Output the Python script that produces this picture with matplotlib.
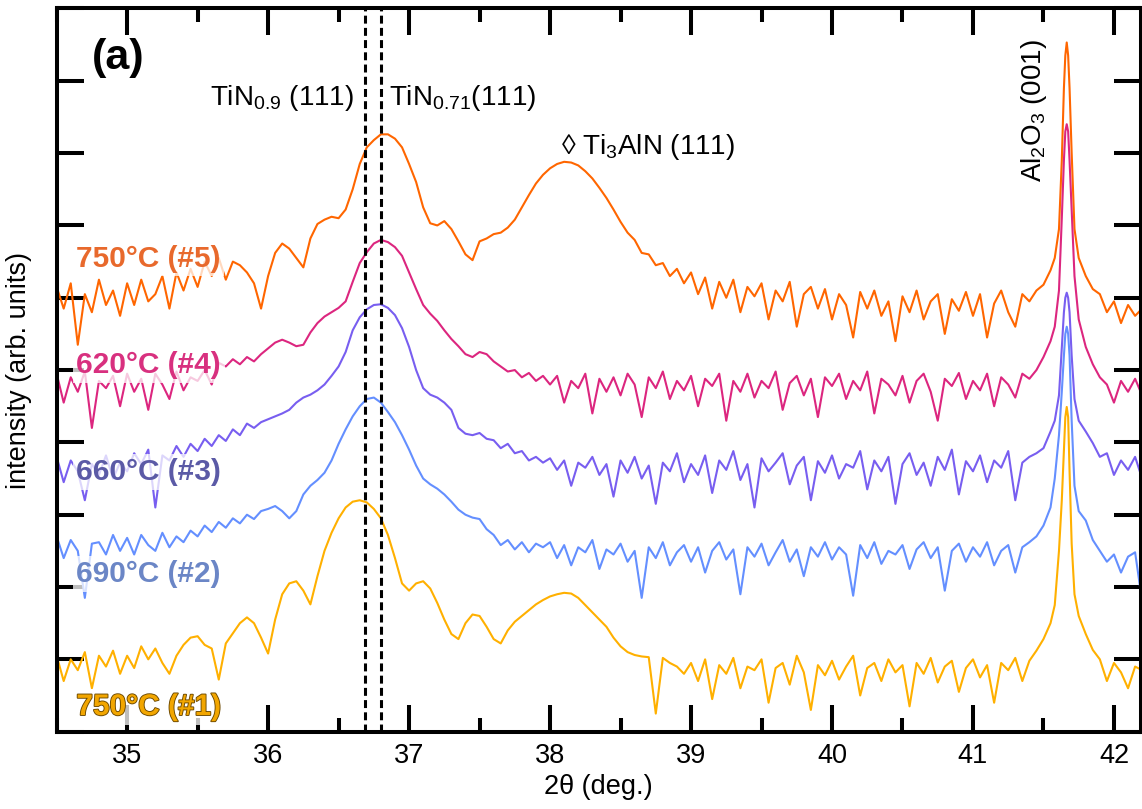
import numpy as np
import matplotlib
matplotlib.use("Agg")
import matplotlib.pyplot as plt
import matplotlib.patheffects as pe
from matplotlib.ticker import MultipleLocator, NullFormatter

plt.rcParams["font.family"] = ["Liberation Sans", "DejaVu Sans"]
plt.rcParams["mathtext.fontset"] = "custom"
plt.rcParams["mathtext.rm"] = "Liberation Sans"
plt.rcParams["mathtext.default"] = "regular"

# %%
# Data (offset traces, arb. units)
# 2theta grid: 0.05 deg steps, finer points across the Al2O3 (001) peak
X_MAIN = np.round(np.arange(34.50, 41.551, 0.05), 2)
X_PEAK = [41.58, 41.61, 41.63, 41.645, 41.655, 41.665, 41.675, 41.685, 41.70, 41.72, 41.75]
X_TAIL = np.round(np.arange(41.80, 42.201, 0.05), 2)
two_theta = np.concatenate([X_MAIN, X_PEAK, X_TAIL])

I_5 = [
    6.15, 5.85, 6.20, 5.35, 6.05, 5.80, 6.25, 5.90, 6.10, 5.75,   # 34.50
    6.20, 5.90, 6.25, 5.95, 6.05, 6.30, 5.85, 6.35, 6.10, 6.40,   # 35.00
    6.15, 6.50, 6.30, 6.55, 6.25, 6.50, 6.45, 6.35, 6.20, 5.85,   # 35.50
    6.30, 6.62, 6.75, 6.68, 6.55, 6.42, 6.82, 7.02, 7.08, 7.12,   # 36.00
    7.10, 7.22, 7.50, 7.85, 8.08, 8.18, 8.26, 8.26, 8.20, 8.08,   # 36.50
    7.85, 7.60, 7.25, 7.03, 7.00, 7.06, 6.95, 6.78, 6.60, 6.52,   # 37.00
    6.78, 6.82, 6.88, 6.90, 6.97, 7.08, 7.25, 7.42, 7.58, 7.70,   # 37.50
    7.79, 7.85, 7.88, 7.87, 7.83, 7.75, 7.65, 7.52, 7.38, 7.22,   # 38.00
    7.05, 6.90, 6.80, 6.62, 6.60, 6.45, 6.48, 6.30, 6.40, 6.20,   # 38.50
    6.35, 6.05, 6.28, 5.85, 6.22, 6.00, 6.25, 5.80, 6.15, 6.02,   # 39.00
    6.20, 5.70, 6.10, 5.95, 6.22, 5.60, 6.05, 6.15, 5.85, 6.12,   # 39.50
    5.70, 6.05, 5.90, 5.45, 6.08, 5.85, 6.10, 5.75, 5.95, 5.40,   # 40.00
    6.02, 5.80, 6.10, 5.70, 5.95, 6.05, 5.50, 5.98, 5.82, 6.08,   # 40.50
    5.75, 6.05, 5.45, 5.92, 6.10, 5.80, 5.60, 6.05, 5.95, 6.10,   # 41.00
    6.18, 6.38,                                                   # 41.50
    6.55, 6.95, 7.90, 8.90, 9.35, 9.53, 9.35, 8.90, 8.00, 6.95, 6.55,  # peak
    6.30, 6.12, 6.05, 5.80, 5.95, 5.65, 5.90, 5.75, 5.85,         # 41.80
]

I_4 = [
    4.95, 4.55, 4.90, 4.70, 4.98, 4.20, 4.85, 4.75, 4.92, 4.50,
    4.95, 4.70, 4.88, 4.45, 4.95, 4.80, 4.60, 4.98, 4.72, 4.90,
    4.85, 5.00, 4.80, 5.10, 5.05, 5.15, 5.08, 5.18, 5.12, 5.22,
    5.30, 5.38, 5.42, 5.38, 5.33, 5.35, 5.52, 5.65, 5.74, 5.80,
    5.86, 5.95, 6.22, 6.48, 6.63, 6.75, 6.80, 6.77, 6.70, 6.58,
    6.35, 6.12, 5.90, 5.78, 5.68, 5.55, 5.43, 5.33, 5.22, 5.18,
    5.25, 5.22, 5.12, 5.05, 4.98, 5.00, 4.90, 4.96, 4.85, 4.92,
    4.80, 4.92, 4.55, 4.85, 4.75, 4.95, 4.40, 4.88, 4.70, 4.90,
    4.65, 4.95, 4.80, 4.35, 4.90, 4.75, 4.98, 4.60, 4.85, 4.72,
    4.92, 4.50, 4.88, 4.78, 4.95, 4.30, 4.85, 4.70, 4.95, 4.62,
    4.85, 4.75, 4.98, 4.45, 4.82, 4.92, 4.65, 4.88, 4.35, 4.90,
    4.78, 4.95, 4.60, 4.85, 4.72, 4.98, 4.40, 4.88, 4.80, 4.65,
    4.92, 4.55, 4.85, 4.95, 4.70, 4.30, 4.88, 4.78, 4.96, 4.60,
    4.85, 4.72, 4.95, 4.50, 4.90, 4.80, 4.62, 4.95, 4.88, 5.00,
    5.18, 5.40,
    5.60, 6.10, 7.10, 7.90, 8.30, 8.40, 8.30, 7.90, 7.20, 6.30, 5.70,
    5.32, 5.08, 4.90, 4.80, 4.55, 4.85, 4.70, 4.88, 4.65,
]

I_3 = [
    3.80, 3.45, 3.75, 3.60, 3.20, 3.70, 3.55, 3.82, 3.50, 3.72,
    3.60, 3.85, 3.70, 3.90, 3.10, 3.82, 3.75, 3.95, 3.80, 3.98,
    3.88, 4.05, 3.95, 4.10, 4.02, 4.18, 4.10, 4.26, 4.20, 4.28,
    4.32, 4.36, 4.40, 4.45, 4.55, 4.62, 4.66, 4.72, 4.80, 4.92,
    5.05, 5.25, 5.55, 5.73, 5.84, 5.90, 5.91, 5.86, 5.76, 5.58,
    5.32, 5.00, 4.75, 4.66, 4.62, 4.55, 4.45, 4.20, 4.12, 4.10,
    4.13, 4.05, 4.03, 3.92, 3.98, 3.85, 3.88, 3.75, 3.80, 3.72,
    3.78, 3.62, 3.75, 3.40, 3.72, 3.65, 3.80, 3.55, 3.70, 3.25,
    3.75, 3.58, 3.80, 3.50, 3.68, 3.15, 3.72, 3.60, 3.85, 3.45,
    3.70, 3.55, 3.82, 3.30, 3.75, 3.62, 3.88, 3.48, 3.70, 3.10,
    3.78, 3.60, 3.72, 3.85, 3.42, 3.68, 3.80, 3.20, 3.74, 3.58,
    3.82, 3.50, 3.70, 3.65, 3.88, 3.35, 3.75, 3.60, 3.80, 3.15,
    3.70, 3.85, 3.55, 3.72, 3.40, 3.80, 3.62, 3.90, 3.28, 3.74,
    3.60, 3.82, 3.45, 3.75, 3.65, 3.88, 3.20, 3.72, 3.80, 3.85,
    3.92, 4.15,
    4.30, 4.65, 5.30, 5.80, 6.00, 6.07, 6.00, 5.80, 5.20, 4.60, 4.30,
    4.15, 3.99, 3.80, 3.85, 3.55, 3.75, 3.62, 3.80, 3.50,
]

I_2 = [
    2.70, 2.40, 2.65, 2.50, 1.85, 2.60, 2.62, 2.45, 2.72, 2.50,
    2.68, 2.45, 2.72, 2.58, 2.50, 2.75, 2.55, 2.70, 2.62, 2.78,
    2.70, 2.85, 2.76, 2.90, 2.82, 2.95, 2.88, 3.00, 2.94, 3.05,
    3.08, 3.12, 3.05, 2.95, 3.05, 3.28, 3.40, 3.48, 3.58, 3.75,
    3.98, 4.18, 4.36, 4.50, 4.60, 4.62, 4.55, 4.42, 4.28, 4.10,
    3.90, 3.68, 3.50, 3.42, 3.36, 3.28, 3.18, 3.07, 3.00, 2.96,
    2.94, 2.80, 2.72, 2.58, 2.65, 2.52, 2.62, 2.48, 2.60, 2.55,
    2.62, 2.40, 2.58, 2.30, 2.55, 2.48, 2.65, 2.25, 2.52, 2.45,
    2.60, 2.35, 2.50, 1.85, 2.55, 2.40, 2.62, 2.30, 2.48, 2.58,
    2.35, 2.55, 2.20, 2.50, 2.62, 2.38, 2.52, 1.90, 2.55, 2.42,
    2.60, 2.30, 2.48, 2.65, 2.35, 2.52, 2.15, 2.55, 2.42, 2.62,
    2.38, 2.55, 2.45, 1.88, 2.58, 2.40, 2.62, 2.32, 2.50, 2.45,
    2.58, 2.25, 2.52, 2.62, 2.40, 2.55, 1.95, 2.50, 2.60, 2.35,
    2.55, 2.42, 2.62, 2.30, 2.50, 2.58, 2.20, 2.55, 2.62, 2.70,
    2.85, 3.10,
    3.50, 4.10, 4.70, 5.20, 5.50, 5.60, 5.50, 5.20, 4.30, 3.40, 3.05,
    2.92, 2.65, 2.50, 2.35, 2.45, 2.20, 2.42, 2.48, 1.80,
]

I_1 = [
    1.05, 0.70, 1.00, 0.85, 1.10, 0.60, 1.05, 0.90, 1.12, 0.80,
    1.05, 0.88, 1.18, 1.00, 1.15, 0.95, 0.80, 1.05, 1.20, 1.30,
    1.32, 1.20, 1.15, 0.72, 1.22, 1.36, 1.50, 1.58, 1.50, 1.30,
    1.08, 1.55, 1.90, 2.05, 2.08, 1.95, 1.76, 2.15, 2.50, 2.75,
    2.95, 3.10, 3.18, 3.20, 3.17, 3.08, 2.95, 2.72, 2.40, 2.05,
    1.95, 2.05, 2.08, 1.98, 1.78, 1.55, 1.35, 1.28, 1.50, 1.62,
    1.60, 1.45, 1.28, 1.22, 1.40, 1.52, 1.60, 1.68, 1.76, 1.82,
    1.87, 1.90, 1.92, 1.91, 1.85, 1.75, 1.65, 1.55, 1.45, 1.30,
    1.18, 1.10, 1.06, 1.04, 1.03, 0.25, 1.02, 0.95, 0.90, 0.80,
    0.95, 0.70, 1.00, 0.45, 0.92, 0.80, 1.02, 0.60, 0.90, 0.85,
    1.00, 0.40, 0.88, 0.95, 0.65, 1.05, 0.82, 0.30, 0.92, 0.78,
    0.98, 0.72, 0.90, 1.05, 0.50, 0.88, 0.95, 0.70, 1.00, 0.82,
    0.92, 0.35, 0.95, 0.80, 1.02, 0.68, 0.90, 0.98, 0.55, 0.88,
    1.00, 0.75, 0.92, 0.40, 0.95, 0.85, 1.02, 0.70, 0.98, 1.12,
    1.28, 1.50,
    1.75, 2.50, 3.20, 3.90, 4.35, 4.49, 4.35, 3.60, 2.60, 1.90, 1.60,
    1.35, 1.13, 1.00, 0.70, 0.95, 0.82, 0.60, 0.90, 0.85,
]

SERIES = [I_5, I_4, I_3, I_2, I_1]
LABELS = ["750°C (#5)", "620°C (#4)", "660°C (#3)", "690°C (#2)", "750°C (#1)"]
LINE_COLORS = ["#FF6600", "#DC267F", "#785EF0", "#648FFF", "#FFB000"]
TEXT_COLORS = ["#E8692C", "#D8307F", "#5B5AA6", "#6B86C6", "#F2A600"]
LABEL_Y = [6.43, 4.96, 3.48, 2.07, 0.23]

TIN_LINES = [36.69, 36.80]

# %%
fig = plt.figure(figsize=(11.42, 8.09), dpi=100)
ax = fig.add_axes([0.0496, 0.0956, 0.9493, 0.8939])

for vals, color in zip(SERIES, LINE_COLORS):
    ax.plot(two_theta, vals, color=color, linewidth=1.5, zorder=2)

for xv in TIN_LINES:
    ax.axvline(xv, color="black", linewidth=2.2, linestyle=(0, (2.6, 1.4)), zorder=2.6)

for lab, tc, ly in zip(LABELS, TEXT_COLORS, LABEL_Y):
    t = ax.text(34.64, ly, lab, color=tc, fontsize=21.5, fontweight="bold",
                ha="left", va="baseline", zorder=3,
                bbox=dict(boxstyle="square,pad=0.12", facecolor="white",
                          edgecolor="none", alpha=0.75))
    if lab.endswith("(#1)"):
        t.set_path_effects([pe.withStroke(linewidth=1.3, foreground="#6B4800")])

ax.text(34.75, 9.31, "(a)", fontsize=31, fontweight="bold", ha="left", va="center")
ax.text(36.61, 8.66, "TiN$_{0.9}$ (111)", fontsize=20, ha="right", va="baseline")
ax.text(36.86, 8.66, "TiN$_{0.71}$(111)", fontsize=20, ha="left", va="baseline")
ax.text(38.08, 7.99, "\u25ca Ti$_3$AlN (111)", fontsize=20, ha="left", va="baseline")
ax.text(41.43, 7.60, "Al$_2$O$_3$ (001)", fontsize=20, rotation=90,
        ha="center", va="bottom")

ax.set_xlim(34.5, 42.19)
ax.set_ylim(0, 10)
ax.xaxis.set_major_locator(MultipleLocator(1))
ax.xaxis.set_minor_locator(MultipleLocator(0.5))
ax.yaxis.set_major_locator(MultipleLocator(1))
ax.yaxis.set_major_formatter(NullFormatter())

ax.tick_params(which="both", direction="in", top=True, right=True, width=2.9)
ax.tick_params(which="major", length=19.5, labelsize=19.5, pad=8)
ax.tick_params(which="minor", length=10)
for sp in ax.spines.values():
    sp.set_linewidth(2.9)

ax.set_xlabel("2\u03b8 (deg.)", fontsize=19.5, labelpad=4)
ax.set_ylabel("intensity (arb. units)", fontsize=19.5, labelpad=10)

fig.savefig("out.png", dpi=100)
